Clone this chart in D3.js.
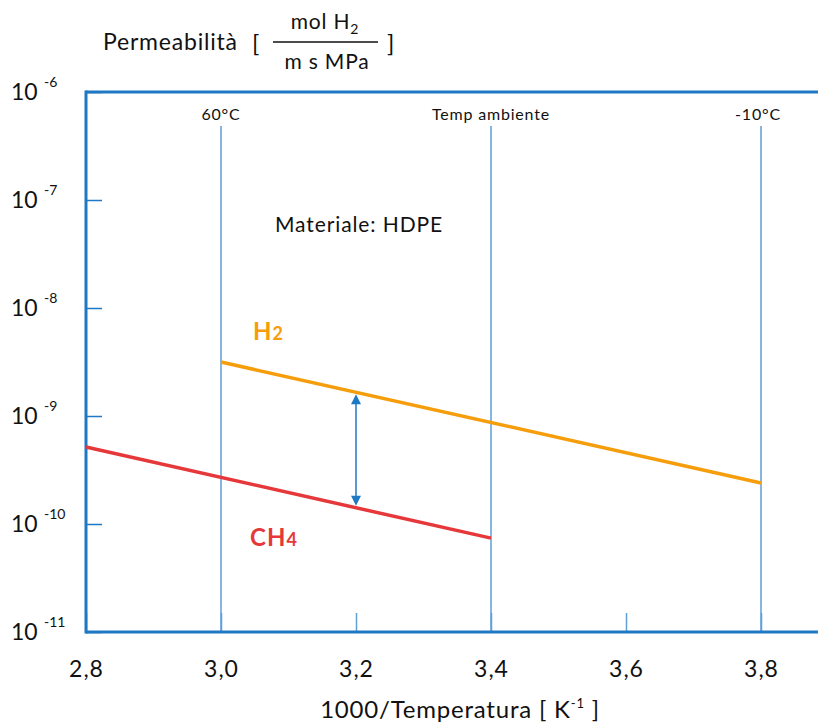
<!DOCTYPE html>
<html>
<head>
<meta charset="utf-8">
<script src="https://cdn.jsdelivr.net/npm/d3@7"></script>
<style>
  body { margin: 0; background: #fff; }
  text { font-family: Lato, "Noto Sans", sans-serif; fill: #111; }
</style>
</head>
<body>
<div id="chart"></div>
<script>
var svgWidth = 818;
var svgHeight = 727;

// data
var xTicks = [2.8, 3.0, 3.2, 3.4, 3.6, 3.8];
var yExponents = [-6, -7, -8, -9, -10, -11];
var refTemps = [3.0, 3.4, 3.8];
var refLabels = ["60°C", "Temp ambiente", "-10°C"];
var h2X = [3.0, 3.8];
var h2Y = [3.16e-9, 2.4e-10];
var ch4X = [2.8, 3.4];
var ch4Y = [5.16e-10, 7.4e-11];
var arrowX = 3.2;

var margin = { top: 92, right: 0, bottom: 95, left: 86 };
var width = svgWidth - margin.left - margin.right;
var height = svgHeight - margin.top - margin.bottom;

var blue = "#1f78c4";
var lightBlue = "#5f9fd6";

var svg = d3.select("#chart")
  .append("svg")
  .attr("width", svgWidth)
  .attr("height", svgHeight);

var chartGroup = svg.append("g")
  .attr("transform", `translate(${margin.left}, ${margin.top})`);

var xScale = d3.scaleLinear()
  .domain([2.8, 2.8 + 0.2 * width / 135])
  .range([0, width]);

var yScale = d3.scaleLog()
  .domain([1e-11, 1e-6])
  .range([height, 0]);

// reference temperature lines
chartGroup.selectAll(".ref")
  .data(refTemps)
  .enter()
  .append("line")
  .attr("x1", d => xScale(d))
  .attr("x2", d => xScale(d))
  .attr("y1", 34)
  .attr("y2", height)
  .attr("stroke", lightBlue)
  .attr("stroke-width", 1.5);

chartGroup.selectAll(".refLabel")
  .data(refTemps)
  .enter()
  .append("text")
  .attr("x", (d, i) => xScale(d) + (i == 2 ? -3 : 0))
  .attr("y", 28)
  .attr("text-anchor", "middle")
  .attr("font-size", "16px")
  .style("letter-spacing", "0.8px")
  .text((d, i) => refLabels[i]);

// x axis
var bottomAxis = d3.axisBottom(xScale)
  .tickValues(xTicks)
  .tickSize(-19)
  .tickPadding(29)
  .tickFormat(d => d3.format(".1f")(d).replace(".", ","));

var xAxis = chartGroup.append("g")
  .attr("transform", `translate(0, ${height})`)
  .call(bottomAxis);

xAxis.select(".domain").remove();
xAxis.selectAll("line").attr("stroke", lightBlue).attr("stroke-width", 1.5);
xAxis.selectAll("text")
  .attr("font-size", "23px")
  .attr("font-family", "Lato, sans-serif")
  .style("letter-spacing", "1px")
  .attr("fill", "#111");

// y axis
var leftAxis = d3.axisLeft(yScale)
  .tickValues(yExponents.map(e => Math.pow(10, e)))
  .tickSize(-16)
  .tickFormat("");

var yAxis = chartGroup.append("g")
  .call(leftAxis);

yAxis.select(".domain").remove();
yAxis.selectAll("line").attr("stroke", blue).attr("stroke-width", 1.5);

var yLabels = chartGroup.selectAll(".ylab")
  .data(yExponents)
  .enter()
  .append("g")
  .attr("transform", d => `translate(${-margin.left}, ${yScale(Math.pow(10, d))})`);

yLabels.append("text")
  .attr("x", 11)
  .attr("y", 8)
  .attr("font-size", "23px")
  .text("10");

yLabels.append("text")
  .attr("x", 44)
  .attr("y", -5)
  .attr("font-size", "14px")
  .text(d => d);

// frame
chartGroup.append("line")
  .attr("x1", 0).attr("x2", width)
  .attr("y1", 0).attr("y2", 0)
  .attr("stroke", blue).attr("stroke-width", 3);
chartGroup.append("line")
  .attr("x1", 0).attr("x2", width)
  .attr("y1", height).attr("y2", height)
  .attr("stroke", blue).attr("stroke-width", 3);
chartGroup.append("line")
  .attr("x1", 0).attr("x2", 0)
  .attr("y1", -1.5).attr("y2", height + 1.5)
  .attr("stroke", blue).attr("stroke-width", 3);

// series lines
var line = d3.line()
  .x(d => xScale(d[0]))
  .y(d => yScale(d[1]));

chartGroup.append("path")
  .datum(h2X.map((x, i) => [x, h2Y[i]]))
  .attr("d", line)
  .attr("fill", "none")
  .attr("stroke", "#f59d0a")
  .attr("stroke-width", 3.5);

chartGroup.append("path")
  .datum(ch4X.map((x, i) => [x, ch4Y[i]]))
  .attr("d", line)
  .attr("fill", "none")
  .attr("stroke", "#e6383a")
  .attr("stroke-width", 3.5);

// arrow between the lines at x = 3.2
function interpLog(xs, ys, x) {
  var t = (x - xs[0]) / (xs[1] - xs[0]);
  return Math.pow(10, Math.log10(ys[0]) + t * (Math.log10(ys[1]) - Math.log10(ys[0])));
}
var ax = xScale(arrowX);
var aTop = yScale(interpLog(h2X, h2Y, arrowX)) + 2;
var aBot = yScale(interpLog(ch4X, ch4Y, arrowX)) - 2;

chartGroup.append("line")
  .attr("x1", ax).attr("x2", ax)
  .attr("y1", aTop + 8).attr("y2", aBot - 8)
  .attr("stroke", blue).attr("stroke-width", 1.5);
chartGroup.append("path")
  .attr("d", `M${ax},${aTop} L${ax - 5},${aTop + 10} L${ax + 5},${aTop + 10} Z`)
  .attr("fill", blue);
chartGroup.append("path")
  .attr("d", `M${ax},${aBot} L${ax - 5},${aBot - 10} L${ax + 5},${aBot - 10} Z`)
  .attr("fill", blue);

// series labels
var h2Label = chartGroup.append("text")
  .attr("x", 167).attr("y", 248)
  .attr("font-size", "24px")
  .attr("font-weight", "bold")
  .style("letter-spacing", "1px")
  .style("fill", "#f59d0a");
h2Label.append("tspan").text("H");
h2Label.append("tspan").attr("font-size", "18px").text("2");

var ch4Label = chartGroup.append("text")
  .attr("x", 164).attr("y", 454)
  .attr("font-size", "24px")
  .attr("font-weight", "bold")
  .style("letter-spacing", "1px")
  .style("fill", "#e6383a");
ch4Label.append("tspan").text("CH");
ch4Label.append("tspan").attr("font-size", "18px").text("4");

chartGroup.append("text")
  .attr("x", 189).attr("y", 140)
  .attr("font-size", "21px")
  .style("letter-spacing", "0.9px")
  .text("Materiale: HDPE");

// y title
svg.append("text")
  .attr("x", 103).attr("y", 50)
  .attr("font-size", "23px")
  .style("letter-spacing", "0.8px")
  .text("Permeabilità");
svg.append("text")
  .attr("x", 252).attr("y", 52)
  .attr("font-size", "24px")
  .text("[");
svg.append("text")
  .attr("x", 387).attr("y", 52)
  .attr("font-size", "24px")
  .text("]");
var num = svg.append("text")
  .attr("x", 325).attr("y", 29)
  .attr("text-anchor", "middle")
  .attr("font-size", "21px")
  .style("letter-spacing", "0.8px");
num.append("tspan").text("mol H");
num.append("tspan").attr("font-size", "14px").attr("dy", 5).text("2");
svg.append("line")
  .attr("x1", 273).attr("x2", 378)
  .attr("y1", 42).attr("y2", 42)
  .attr("stroke", "#111").attr("stroke-width", 1.5);
svg.append("text")
  .attr("x", 327).attr("y", 69)
  .attr("text-anchor", "middle")
  .attr("font-size", "21px")
  .style("letter-spacing", "0.8px")
  .text("m s MPa");

// x title
var xTitle = svg.append("text")
  .attr("x", 460).attr("y", 718)
  .attr("text-anchor", "middle")
  .attr("font-size", "24px")
  .style("letter-spacing", "0.8px");
xTitle.append("tspan").text("1000/Temperatura [ K");
xTitle.append("tspan").attr("font-size", "13px").attr("dy", -10).text("-1");
xTitle.append("tspan").attr("dy", 10).text(" ]");
</script>
</body>
</html>
